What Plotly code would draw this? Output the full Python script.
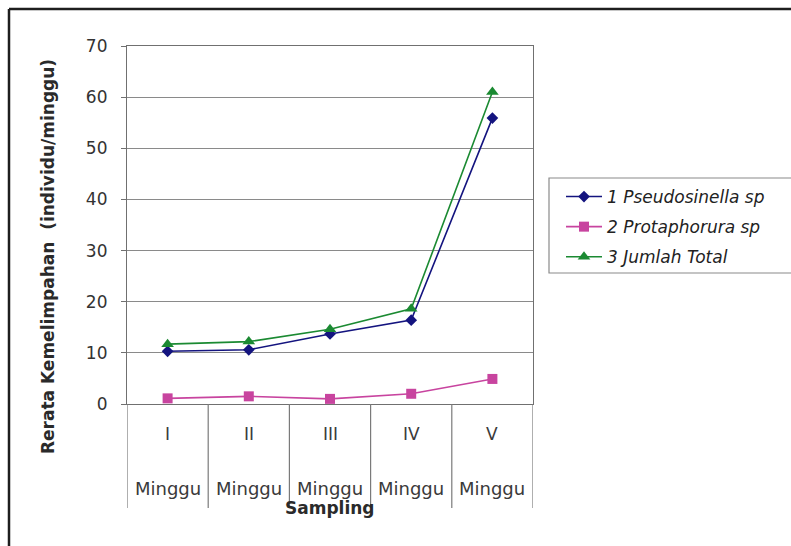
import plotly.graph_objects as go

# Sampling weeks (inner label) and the shared outer label
weeks = ["I", "II", "III", "IV", "V"]
week_word = "Minggu"

# Mean abundance (individuals per week)
pseudosinella = [10.3, 10.6, 13.7, 16.4, 55.9]
protaphorura = [1.1, 1.5, 1.0, 2.0, 4.9]
jumlah_total = [11.7, 12.2, 14.6, 18.6, 61.0]

series_names = ["<i>1 Pseudosinella sp</i>", "<i>2 Protaphorura sp</i>", "<i>3 Jumlah Total</i>"]
y_ticks = [0, 10, 20, 30, 40, 50, 60, 70]

FONT = "DejaVu Sans, Verdana, sans-serif"

# figure geometry (pixels)
W, H = 791, 546
L, R, T, B = 127, 533, 46, 404
pw, ph = R - L, B - T


def px_x(px):
    return (px - L) / pw


def px_y(py):
    return (B - py) / ph


x = list(range(len(weeks)))

fig = go.Figure()
styles = [
    dict(color="#14147f", symbol="diamond", size=9),
    dict(color="#c8449f", symbol="square", size=10),
    dict(color="#1b8a32", symbol="triangle-up", size=11),
]
for i, (name, vals, st) in enumerate(zip(series_names, [pseudosinella, protaphorura, jumlah_total], styles)):
    fig.add_trace(go.Scatter(
        x=x, y=vals, name=name, mode="lines+markers",
        line=dict(color=st["color"], width=1.6),
        marker=dict(color=st["color"], symbol=st["symbol"], size=st["size"]),
        legendgroup=f"g{i}",
    ))

shapes = []
# category dividers below the plot
for k in range(len(weeks) + 1):
    shapes.append(dict(type="line", xref="x", yref="paper",
                       x0=k - 0.5, x1=k - 0.5, y0=0, y1=px_y(508),
                       line=dict(color="#7a7a7a", width=1.2)))
# outer frame (top and left edges)
shapes.append(dict(type="line", xref="paper", yref="paper",
                   x0=px_x(9), x1=px_x(800), y0=px_y(9), y1=px_y(9),
                   line=dict(color="#1e1e1e", width=2.5)))
shapes.append(dict(type="line", xref="paper", yref="paper",
                   x0=px_x(9), x1=px_x(9), y0=px_y(9), y1=px_y(560),
                   line=dict(color="#1e1e1e", width=2.5)))
# legend frame
shapes.append(dict(type="rect", xref="paper", yref="paper",
                   x0=px_x(549), x1=px_x(796), y0=px_y(178), y1=px_y(273),
                   line=dict(color="#8a8a8a", width=1.2), fillcolor="rgba(0,0,0,0)"))

annotations = []
for k, w in enumerate(weeks):
    annotations.append(dict(x=k, y=px_y(434), xref="x", yref="paper", text=w,
                            showarrow=False, yanchor="middle",
                            font=dict(family=FONT, size=17, color="#3a3a3a")))
    annotations.append(dict(x=k, y=px_y(488), xref="x", yref="paper", text=week_word,
                            showarrow=False, yanchor="middle",
                            font=dict(family=FONT, size=18, color="#3a3a3a")))
annotations.append(dict(x=px_x(330), y=px_y(508), xref="paper", yref="paper",
                        text="<b>Sampling</b>", showarrow=False, yanchor="middle",
                        font=dict(family=FONT, size=17, color="#2a2a2a")))
annotations.append(dict(x=px_x(48), y=px_y(257), xref="paper", yref="paper",
                        text="<b>Rerata Kemelimpahan  (individu/minggu)</b>",
                        textangle=-90, showarrow=False,
                        xanchor="center", yanchor="middle",
                        font=dict(family=FONT, size=17, color="#2a2a2a")))

fig.update_layout(
    width=W, height=H,
    margin=dict(l=L, r=W - R, t=T, b=H - B, autoexpand=False),
    paper_bgcolor="white", plot_bgcolor="white",
    font=dict(family=FONT, color="#333333"),
    showlegend=True,
    legend=dict(x=px_x(561), y=px_y(179), xanchor="left", yanchor="top",
                borderwidth=0, bgcolor="rgba(0,0,0,0)",
                font=dict(family=FONT, size=17, color="#222222"),
                tracegroupgap=5, itemwidth=36),
    xaxis=dict(range=[-0.5, len(weeks) - 0.5], showgrid=False, zeroline=False,
               showticklabels=False, ticks="", showline=True, mirror=True,
               linecolor="#707070", linewidth=1.2),
    yaxis=dict(range=[0, 70], tickvals=y_ticks, showgrid=True, gridcolor="#8a8a8a",
               gridwidth=1, zeroline=False, showline=True, mirror=True,
               linecolor="#707070", linewidth=1.2, ticks="outside", ticklen=5,
               tickcolor="#707070", ticklabelstandoff=10,
               tickfont=dict(family=FONT, size=17, color="#333333")),
    shapes=shapes, annotations=annotations,
)

fig.write_html("out.html")
